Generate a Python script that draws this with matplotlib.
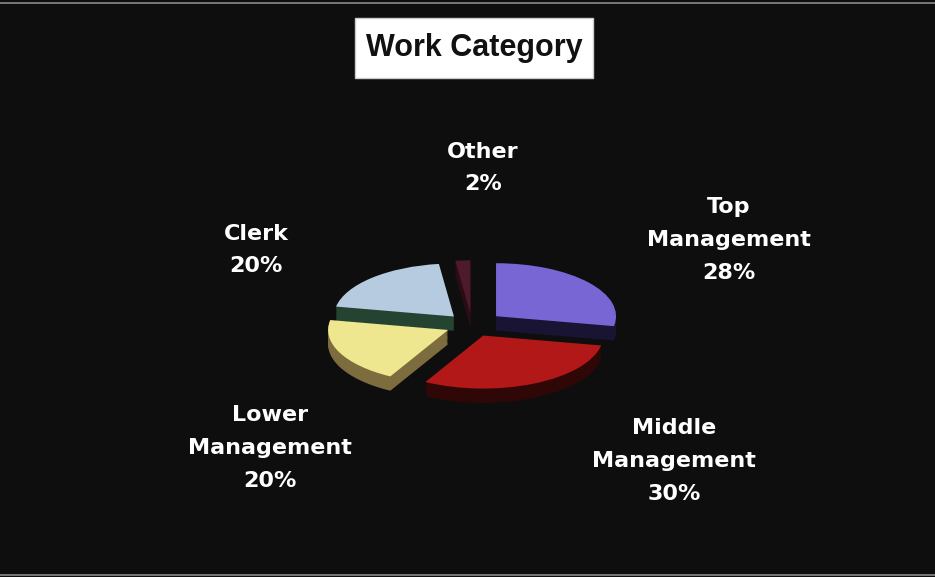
import numpy as np
import matplotlib.pyplot as plt
from matplotlib.patches import Rectangle
from matplotlib.lines import Line2D

# work category shares, clockwise from 12 o'clock
categories = ["Top\nManagement", "Middle\nManagement", "Lower\nManagement", "Clerk", "Other"]
shares = [28, 30, 20, 20, 2]
top_colors = ["#7766d4", "#b31818", "#efe78f", "#b6cbe0", "#4c1a2a"]
side_colors = ["#1a1434", "#300707", "#7d6d3e", "#244330", "#2a0c14"]
explode = [0.26, 0.22, 0.22, 0.22, 0.22]

# label anchor points in figure pixels (x, y from top)
label_pos = [(729, 240), (674, 461), (270, 448), (256, 250), (483, 168)]

W, H = 935, 577
fig = plt.figure(figsize=(W / 100, H / 100), dpi=100)
fig.patch.set_facecolor("#0e0e0e")
ax = fig.add_axes([0, 0, 1, 1])
ax.set_facecolor("#0e0e0e")

depth = 0.27
steps = 12

# extruded side of the tilted pie: stack of darker copies
for k in range(steps, 0, -1):
    ax.pie(shares, colors=side_colors, explode=explode, startangle=90,
           counterclock=False, center=(0, -depth * k / steps),
           wedgeprops=dict(linewidth=0))
ax.pie(shares, colors=top_colors, explode=explode, startangle=90,
       counterclock=False, wedgeprops=dict(linewidth=0))

# squash the pie into an ellipse: 120 px per unit across, 53 px per unit down
cx, cy, rx, ry = 472, 325, 120, 53
ax.set_aspect("auto")
ax.set_xlim(-cx / rx, (W - cx) / rx)
ax.set_ylim(-(H - cy) / ry, cy / ry)
ax.axis("off")

for name, val, (x, y) in zip(categories, shares, label_pos):
    fig.text(x / W, 1 - y / H, f"{name}\n{val}%", ha="center", va="center",
             color="white", fontsize=16, fontweight="bold",
             family="DejaVu Sans", linespacing=1.8)

# title in a white box
fig.patches.append(Rectangle((355 / W, 1 - 78 / H), 238 / W, 60 / H,
                             transform=fig.transFigure, facecolor="white",
                             edgecolor="#cccccc", linewidth=1))
fig.text(474 / W, 1 - 48 / H, "Work Category", ha="center", va="center",
         color="#111111", fontsize=22, fontweight="bold", family="Liberation Sans")

# thin light rules along the top and bottom of the slide
for yy in (3, 575):
    fig.lines.append(Line2D([0, 1], [1 - yy / H] * 2, transform=fig.transFigure,
                            color="#8a8a8a", linewidth=1.2))

fig.savefig("out.png", dpi=100, facecolor=fig.get_facecolor())
